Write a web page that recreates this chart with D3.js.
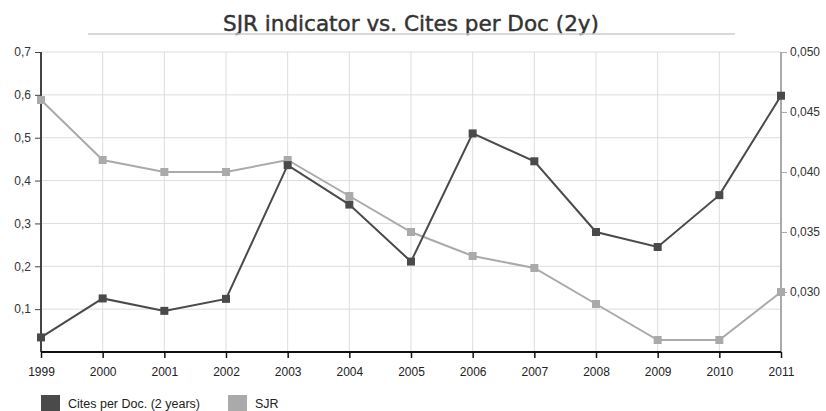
<!DOCTYPE html>
<html><head><meta charset="utf-8">
<script src="https://cdn.jsdelivr.net/npm/d3@7"></script>
<style>body{margin:0;background:#fff}svg{display:block}</style>
</head><body><svg id="c" width="826" height="411"></svg>
<script>
const years = [1999,2000,2001,2002,2003,2004,2005,2006,2007,2008,2009,2010,2011];
const citesPerDoc = [0.034,0.125,0.096,0.124,0.436,0.344,0.211,0.510,0.445,0.280,0.245,0.366,0.598];
const sjr = [0.046,0.041,0.040,0.040,0.041,0.038,0.035,0.033,0.032,0.029,0.026,0.026,0.030];
const leftTicks = [0.1,0.2,0.3,0.4,0.5,0.6,0.7];
const rightTicks = [0.030,0.035,0.040,0.045,0.050];
const title = "SJR indicator vs. Cites per Doc (2y)";
const seriesNames = ["Cites per Doc. (2 years)","SJR"];

const svg = d3.select("#c");
const L=41,R=781,T=52,B=352;
const x = d3.scalePoint().domain(years).range([L,R]);
const yL = d3.scaleLinear().domain([0,0.7]).range([B,T]);
const yR = d3.scaleLinear().domain([0.025,0.050]).range([B,T]);
const fmt = d => d3.format(".1f")(d).replace(".",",");
const fmtR = d => d3.format(".3f")(d).replace(".",",");
const font = "Liberation Sans, Arial, sans-serif";

// title
svg.append("text").attr("x",411).attr("y",31).attr("text-anchor","middle")
  .attr("font-family","DejaVu Sans Condensed, DejaVu Sans, sans-serif").attr("font-size",22)
  .attr("textLength",376).attr("lengthAdjust","spacingAndGlyphs")
  .attr("fill","#333").attr("stroke","#333").attr("stroke-width",0.4).text(title);
svg.append("line").attr("x1",88).attr("x2",735).attr("y1",34).attr("y2",34).attr("stroke","#ccc").attr("stroke-width",1.5);

// grid
const g = svg.append("g");
g.selectAll(".hg").data(leftTicks).join("line").attr("x1",L).attr("x2",R)
  .attr("y1",d=>yL(d)).attr("y2",d=>yL(d)).attr("stroke","#ddd").attr("stroke-width",1);
g.selectAll(".vg").data(years.slice(1)).join("line").attr("y1",T).attr("y2",B)
  .attr("x1",d=>x(d)).attr("x2",d=>x(d)).attr("stroke","#ddd").attr("stroke-width",1);

// left axis
const la = svg.append("g").attr("transform",`translate(${L},0)`)
  .call(d3.axisLeft(yL).tickValues(leftTicks).tickFormat(fmt).tickSize(6).tickPadding(4));
la.select(".domain").attr("stroke","#444").attr("stroke-width",2).attr("d",`M0,${T}V${B}`);
la.selectAll(".tick line").attr("stroke","#444");
la.selectAll("text").attr("font-family",font).attr("font-size",12).attr("fill","#333");

// right axis
const ra = svg.append("g").attr("transform",`translate(${R},0)`)
  .call(d3.axisRight(yR).tickValues(rightTicks).tickFormat(fmtR).tickSize(6).tickPadding(3));
ra.select(".domain").attr("stroke","#aaa").attr("stroke-width",2).attr("d",`M0,${T}V${B}`);
ra.selectAll(".tick line").attr("stroke","#aaa");
ra.selectAll("text").attr("font-family",font).attr("font-size",12).attr("fill","#333");

// bottom axis
const ba = svg.append("g").attr("transform",`translate(0,${B})`)
  .call(d3.axisBottom(x).tickSize(6).tickPadding(9));
ba.select(".domain").attr("stroke","#111").attr("stroke-width",2).attr("d",`M${L},0H${R}`);
ba.selectAll(".tick line").attr("stroke","#111").attr("stroke-width",1.5);
ba.selectAll("text").attr("font-family",font).attr("font-size",12).attr("fill","#222");

// lines
const series = [
  {vals:sjr, y:yR, color:"#aaa"},
  {vals:citesPerDoc, y:yL, color:"#4a4a4a"}
];
series.forEach(s=>{
  const line = d3.line().x((d,i)=>x(years[i])).y(d=>s.y(d));
  svg.append("path").attr("d",line(s.vals)).attr("fill","none").attr("stroke",s.color).attr("stroke-width",2);
  svg.append("g").selectAll("rect").data(s.vals).join("rect")
    .attr("x",(d,i)=>x(years[i])-4).attr("y",d=>s.y(d)-4).attr("width",8).attr("height",8)
    .attr("fill",s.color);
});

// legend
const leg = [{name:seriesNames[0],color:"#4a4a4a",x:41,tx:68},{name:seriesNames[1],color:"#aaa",x:228,tx:255}];
leg.forEach(l=>{
  svg.append("rect").attr("x",l.x).attr("y",395).attr("width",19).attr("height",16).attr("fill",l.color);
  svg.append("text").attr("x",l.tx).attr("y",408).attr("font-family",font).attr("font-size",12.5).attr("fill","#222").text(l.name);
});
</script></body></html>
